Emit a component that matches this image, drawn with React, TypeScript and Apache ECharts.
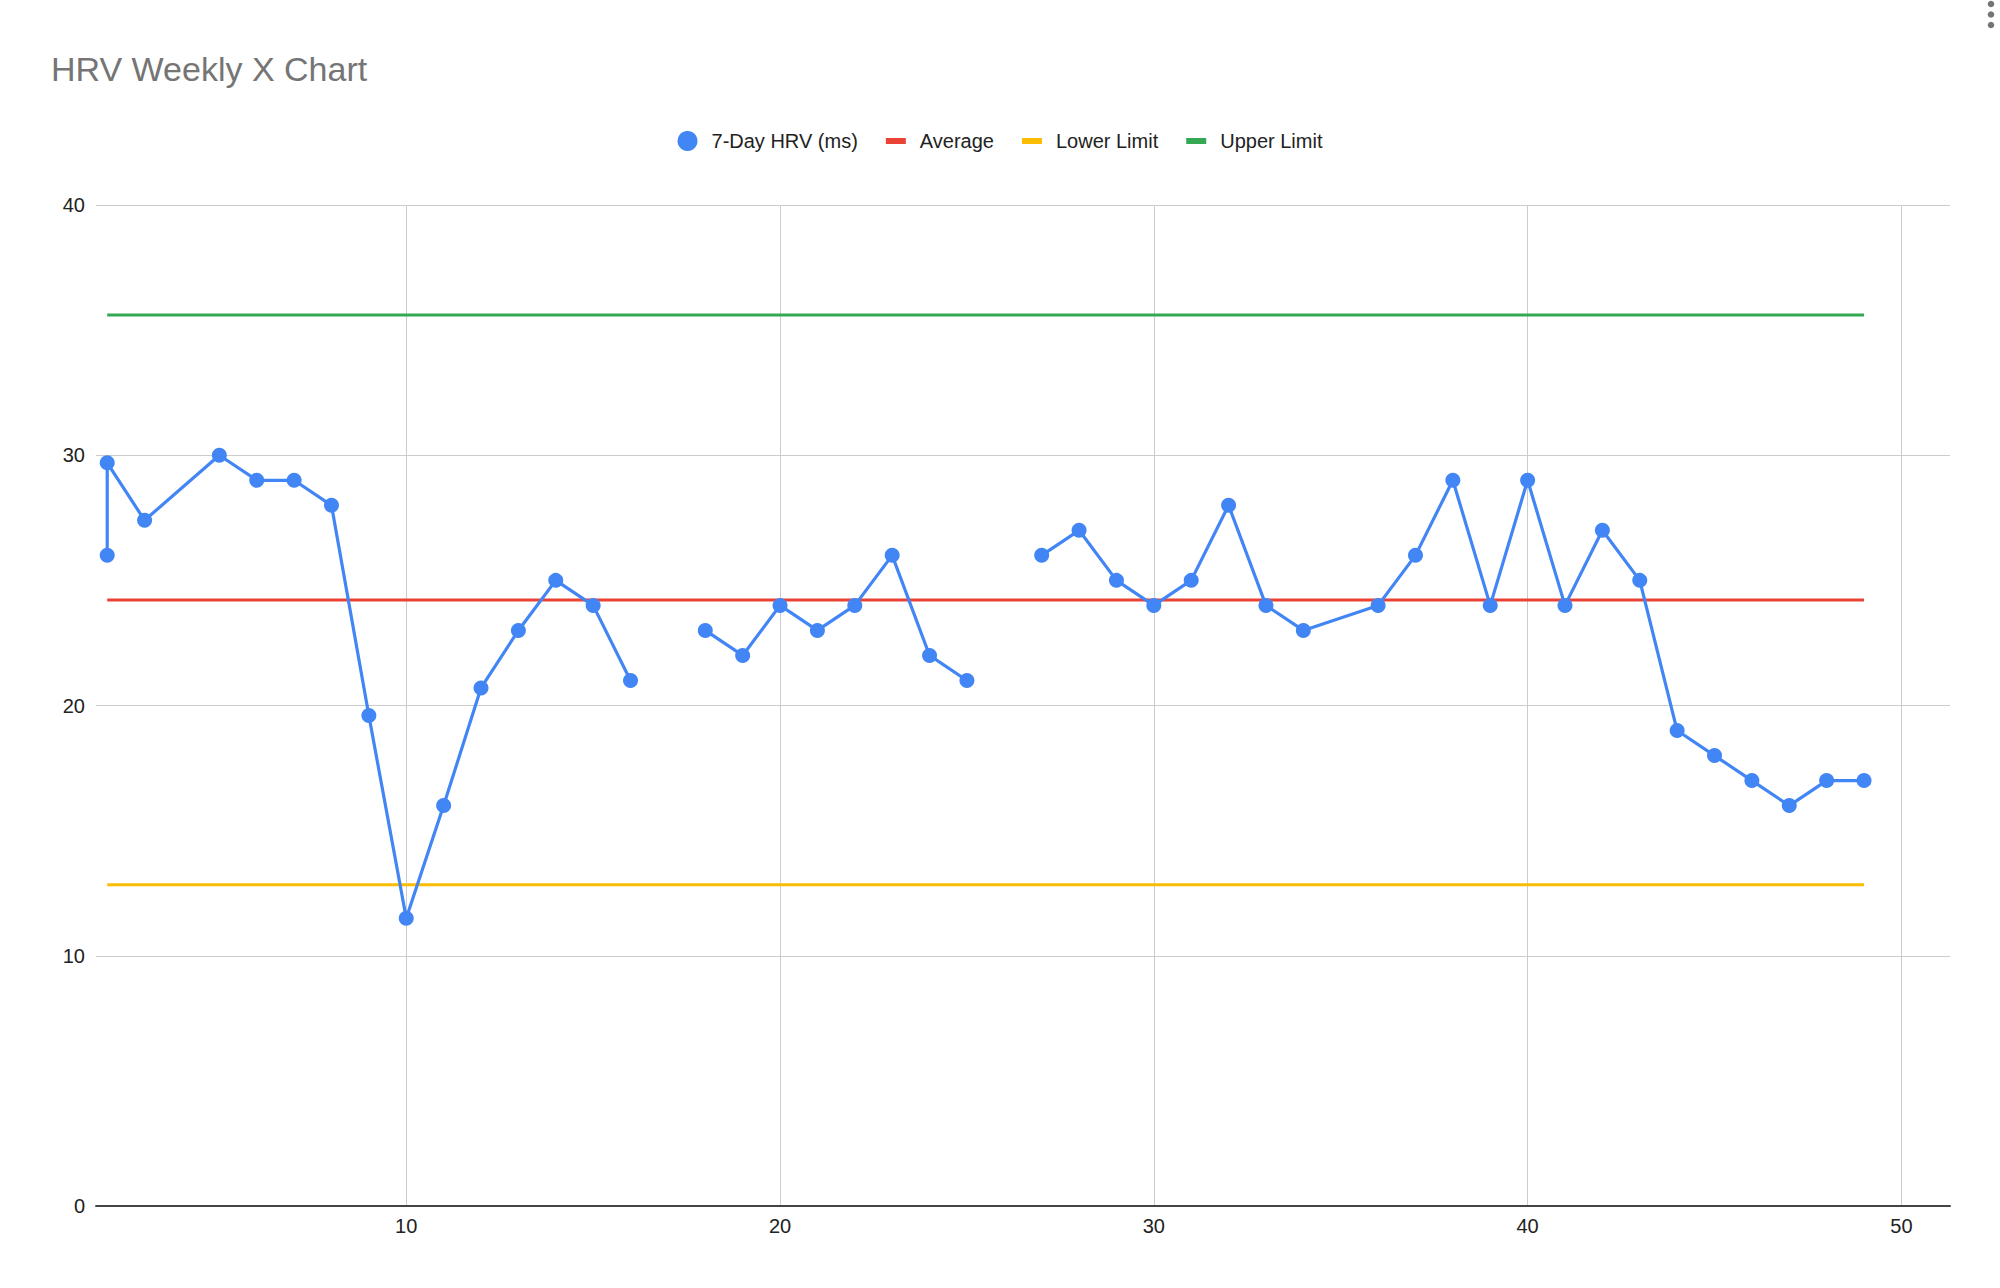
import React, { useEffect, useRef } from "react";
import * as echarts from "echarts";

const weeks = [2, 2, 3, 5, 6, 7, 8, 9, 10, 11, 12, 13, 14, 15, 16, 17, 18, 19, 20, 21, 22, 23, 24, 25, 26, 27, 28, 29, 30, 31, 32, 33, 34, 36, 37, 38, 39, 40, 41, 42, 43, 44, 45, 46, 47, 48, 49];
const hrv: (number | null)[] = [26, 29.7, 27.4, 30, 29, 29, 28, 19.6, 11.5, 16, 20.7, 23, 25, 24, 21, null, 23, 22, 24, 23, 24, 26, 22, 21, null, 26, 27, 25, 24, 25, 28, 24, 23, 24, 26, 29, 24, 29, 24, 27, 25, 19, 18, 17, 16, 17, 17];

const limitWeeks = [2, 49];
const averageValues = [24.22, 24.22];
const lowerValues = [12.84, 12.84];
const upperValues = [35.6, 35.6];

const seriesNames = ["7-Day HRV (ms)", "Average", "Lower Limit", "Upper Limit"];
const colors = ["#4285F4", "#EA4335", "#FBBC04", "#34A853"];

const FONT = "'Liberation Sans', Arial, Helvetica, sans-serif";
const BAR_ICON = "path://M0,0 L20,0 L20,6 L0,6 Z";

export default function App() {
  const ref = useRef<HTMLDivElement>(null);
  useEffect(() => {
    if (!ref.current) return;
    const chart = echarts.init(ref.current, null, { renderer: "svg" });
    const hrvData = weeks.map((w, i) => [w, hrv[i] === null ? "-" : hrv[i]]);
    const mk = (vals: number[]) => limitWeeks.map((w, i) => [w, vals[i]]);
    const limitSeries = (name: string, vals: number[], color: string) => ({
      name,
      type: "line",
      data: mk(vals),
      symbol: "none",
      lineStyle: { color, width: 3 },
      itemStyle: { color },
      z: 2,
      silent: true,
    });
    chart.setOption({
      animation: false,
      backgroundColor: "#ffffff",
      textStyle: { fontFamily: FONT },
      title: {
        text: "HRV Weekly X Chart",
        left: 51,
        top: 52,
        padding: 0,
        textStyle: { fontFamily: FONT, fontSize: 34, fontWeight: "normal", color: "#757575" },
      },
      legend: {
        top: 131,
        left: "center",
        padding: 0,
        itemWidth: 20,
        itemHeight: 20,
        itemGap: 28,
        symbolKeepAspect: true,
        textStyle: { fontFamily: FONT, fontSize: 20, color: "#222222", padding: [0, 0, 0, 9] },
        data: [
          { name: seriesNames[0], icon: "circle" },
          { name: seriesNames[1], icon: BAR_ICON },
          { name: seriesNames[2], icon: BAR_ICON },
          { name: seriesNames[3], icon: BAR_ICON },
        ],
      },
      grid: { left: 96, right: 50, top: 205, bottom: 82, containLabel: false },
      xAxis: {
        type: "value",
        min: 1.7,
        max: 51.3,
        splitNumber: 5,
        axisLine: { show: true, lineStyle: { color: "#444444", width: 2 } },
        axisTick: { show: false },
        axisLabel: {
          showMinLabel: false,
          showMaxLabel: false,
          fontFamily: FONT,
          fontSize: 20,
          color: "#222222",
          margin: 10,
        },
        splitLine: { show: true, showMinLine: false, showMaxLine: false, lineStyle: { color: "#cccccc", width: 1 } },
      },
      yAxis: {
        type: "value",
        min: 0,
        max: 40,
        interval: 10,
        axisLine: { show: false },
        axisTick: { show: false },
        axisLabel: { fontFamily: FONT, fontSize: 20, color: "#222222", margin: 11 },
        splitLine: { show: true, lineStyle: { color: "#cccccc", width: 1 } },
      },
      series: [
        limitSeries(seriesNames[1], averageValues, colors[1]),
        limitSeries(seriesNames[2], lowerValues, colors[2]),
        limitSeries(seriesNames[3], upperValues, colors[3]),
        {
          name: seriesNames[0],
          type: "line",
          data: hrvData,
          connectNulls: false,
          symbol: "circle",
          symbolSize: 15,
          showAllSymbol: true,
          lineStyle: { color: colors[0], width: 3.2 },
          itemStyle: { color: colors[0] },
          z: 5,
        },
      ],
      graphic: [
        { type: "circle", shape: { cx: 1991, cy: 4, r: 3.3 }, style: { fill: "#757575" } },
        { type: "circle", shape: { cx: 1991, cy: 14.5, r: 3.3 }, style: { fill: "#757575" } },
        { type: "circle", shape: { cx: 1991, cy: 25, r: 3.3 }, style: { fill: "#757575" } },
      ],
    });
    return () => chart.dispose();
  }, []);
  return (
    <div
      ref={ref}
      style={{ position: "fixed", left: 0, top: 0, width: 2000, height: 1288, background: "#fff" }}
    />
  );
}
